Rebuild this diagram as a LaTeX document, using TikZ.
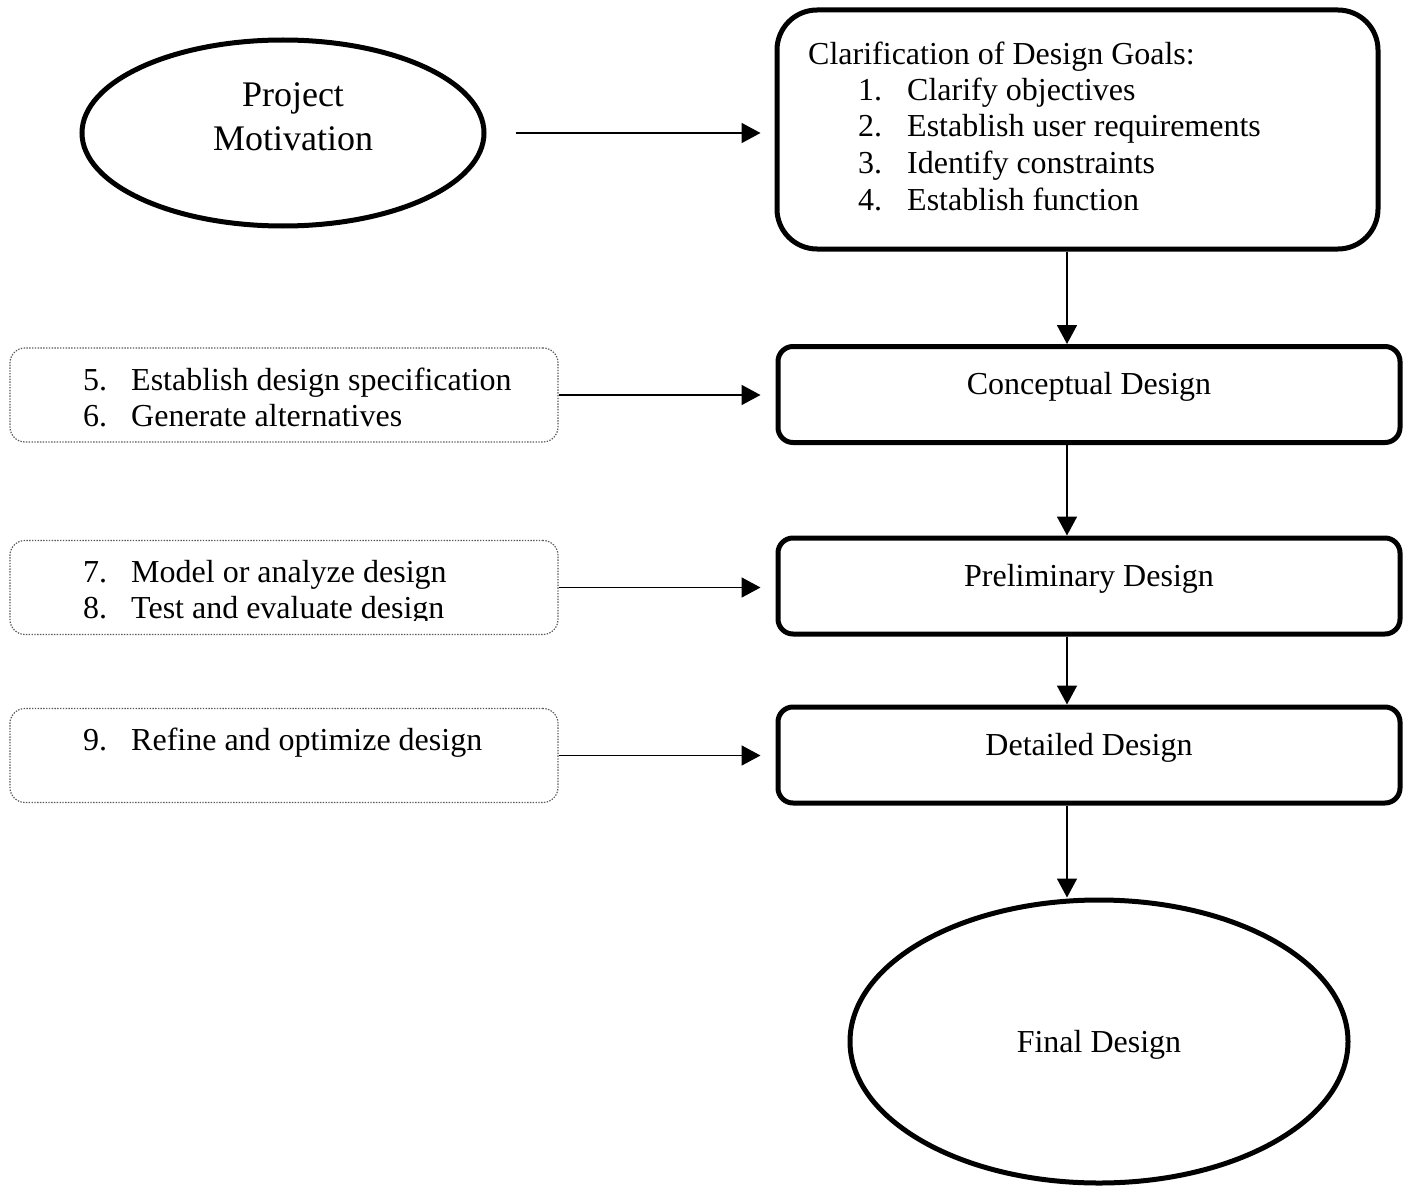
\documentclass[tikz,border=0pt]{standalone}
\usepackage{fontspec}
\setmainfont{Liberation Serif}
\usetikzlibrary{shapes.geometric,arrows.meta}
\newcommand\bodyfont{\fontsize{32}{36}\selectfont}
\newcommand\titlefont{\fontsize{36}{43}\selectfont}

\begin{document}
\begin{tikzpicture}[x=1pt,y=-1pt,
  flow/.style={-{Triangle[length=19pt,width=20pt]}, line width=1.8pt},
  oval/.style={draw, ellipse, line width=5pt, inner sep=0pt},
  stage/.style={draw, line width=5pt, rounded corners=15pt,
    minimum width=622pt, minimum height=96pt, inner sep=0pt,
    font=\bodyfont, text height=12pt, text depth=12pt},
  tasks/.style={draw=black!65, line width=1.2pt, dash pattern=on 1.4pt off 1.4pt,
    rounded corners=15pt, minimum width=548pt, minimum height=94pt, inner sep=0pt},
  listline/.style={anchor=base west, inner sep=0pt, font=\bodyfont},
  titleline/.style={anchor=base, inner sep=0pt, font=\titlefont},
]
\useasboundingbox (0,0) rectangle (1411,1188);

% starting point
\node[oval, minimum width=402pt, minimum height=186pt] (pm) at (283,133) {};
\node[titleline] (pm1) at (293,107) {Project};
\node[titleline] (pm2) at (293,150) {Motivation};

% design goals
\node[draw, line width=5pt, rounded corners=40pt, minimum width=601pt,
      minimum height=239pt, inner sep=0pt] (cl) at (1077.5,129.5) {};
\node[listline] (cl0) at (808,65) {Clarification of Design Goals:};
\node[listline] (cn1) at (858,101) {1.};
\node[listline] (cl1) at (907,101) {Clarify objectives};
\node[listline] (cn2) at (858,137) {2.};
\node[listline] (cl2) at (907,137) {Establish user requirements};
\node[listline] (cn3) at (858,173) {3.};
\node[listline] (cl3) at (907,173) {Identify constraints};
\node[listline] (cn4) at (858,210) {4.};
\node[listline] (cl4) at (907,210) {Establish function};

% design stages
\node[stage] (cd) at (1089,394.5) {Conceptual Design};
\node[stage] (pd) at (1089,586) {Preliminary Design};
\node[stage] (dd) at (1089,755) {Detailed Design};
\node[oval, minimum width=498pt, minimum height=283pt, font=\bodyfont,
      text height=28pt, text depth=6pt] (fd) at (1099,1041.5) {Final Design};

% task groups
\node[tasks] (t1) at (284,395) {};
\node[listline] (tn5) at (83,390) {5.};
\node[listline] (tt5) at (131,390) {Establish design specification};
\node[listline] (tn6) at (83,426) {6.};
\node[listline] (tt6) at (131,426) {Generate alternatives};

\node[tasks] (t2) at (284,587.5) {};
\node[listline] (tn7) at (83,582) {7.};
\node[listline] (tt7) at (131,582) {Model or analyze design};
\begin{scope}
  \clip (60,590) rectangle (560,620);
  \node[listline] (tn8) at (83,618) {8.};
  \node[listline] (tt8) at (131,618) {Test and evaluate design};
\end{scope}

\node[tasks] (t3) at (284,755.5) {};
\node[listline] (tn9) at (83,750) {9.};
\node[listline] (tt9) at (131,750) {Refine and optimize design};

% connectors
\coordinate (ax) at (1067,0);
\draw[flow, shorten <=29pt, shorten >=14pt] (pm.east) -- (pm.east -| cl.west);
\draw[flow] (cl.south -| ax) -- (cd.north -| ax);
\draw[flow] (cd.south -| ax) -- (pd.north -| ax);
\draw[flow] (pd.south -| ax) -- (dd.north -| ax);
\draw[flow] (dd.south -| ax) -- (fd.north -| ax);
\draw[flow, shorten >=15pt] (t1.east) -- (t1.east -| cd.west);
\draw[flow, shorten >=15pt] (t2.east) -- (t2.east -| pd.west);
\draw[flow, shorten >=15pt] (t3.east) -- (t3.east -| dd.west);
\end{tikzpicture}
\end{document}
